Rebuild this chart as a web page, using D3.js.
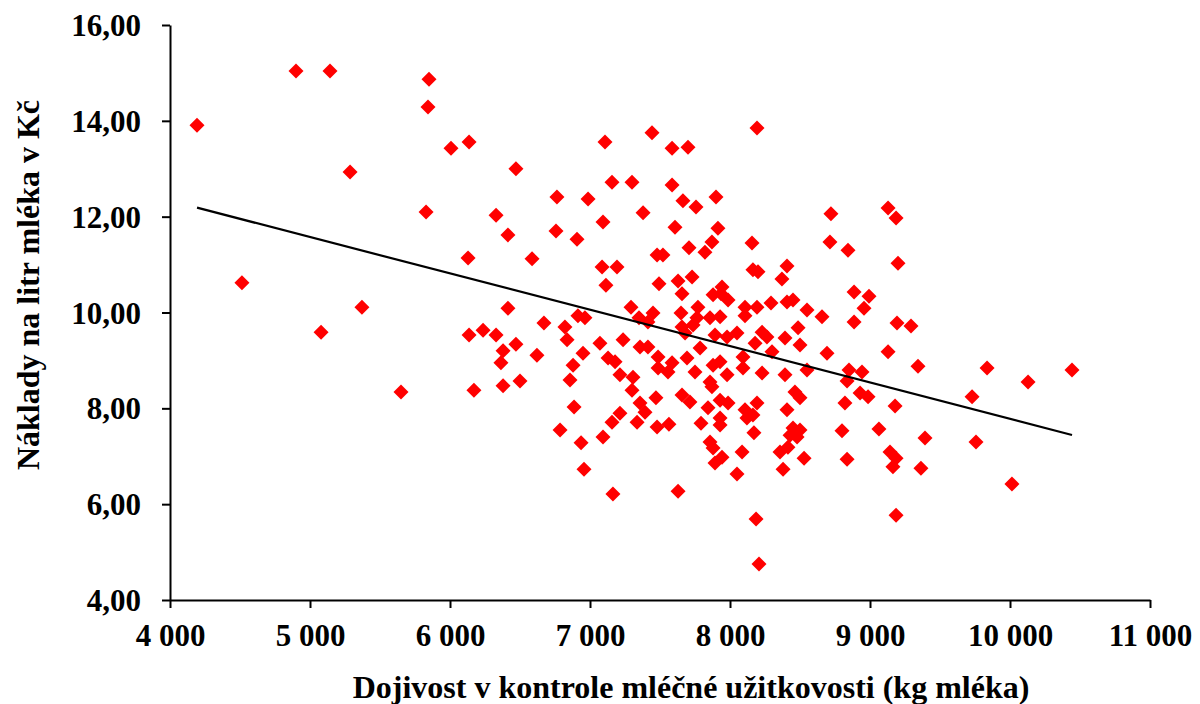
<!DOCTYPE html>
<html>
<head>
<meta charset="utf-8">
<script src="https://cdn.jsdelivr.net/npm/d3@7"></script>
<style>
  html, body { margin: 0; padding: 0; background: #fff; }
  svg { display: block; }
  text { font-family: "Liberation Serif", "Times New Roman", serif; font-weight: bold; fill: #000; }
</style>
</head>
<body>
<svg id="chart" width="1200" height="704"></svg>
<script>
// Milk yield per cow in the performance recording (kg of milk)
const milkYield = [
  4193,4514,4900,5143,5079,5286,5371,5650,5850,5843,5829,6007,6136,6129,6136,6171,6236,6329,6379,6364,6379,6329,6414,6414,6471,6471,6500,6586,6621,6671,6764,6757,
  7107,7443,7586,7700,7157,7300,7586,6986,7664,7757,7379,7093,7607,6907,7707,7479,7521,7086,7193,7114,7493,7629,7729,7657,7293,7450,7650,7771,7350,7414,6914,6964,
  8193,7900,7914,7871,7821,8157,8721,8714,8843,8164,8200,8407,8371,7943,7879,7936,7986,8107,8193,8293,8407,8450,8550,8657,7857,7929,8107,
  6821,6836,7071,7236,6950,6879,6857,7129,7179,7214,7307,7300,7357,7414,7486,7486,7557,7586,7357,7393,7471,7214,7157,7336,7479,7564,6886,6786,6936,7093,6957,7657,7714,7793,7679,7736,7786,7693,7750,7657,7764,7164,7629,
  8050,8264,8229,8393,8486,8500,8300,8179,7893,7979,7929,7879,8093,8093,8229,8393,8550,8693,7857,7871,7979,8464,8500,8407,7929,7986,7843,7929,7929,8107,8193,8164,8121,8171,8450,8500,8429,8479,7857,7879,7943,7893,8086,8357,8414,8379,8050,
  9129,9186,9200,8886,8993,8957,8886,9193,9293,9129,9343,9836,10443,10129,8850,8943,8836,8929,8986,8821,9179,9729,8800,9064,9393,9757,8529,8836,9143,9186,9164,9364,10014,9186,8186,8207
];

// Cost per litre of milk (CZK)
const costPerLitre = [
  13.91,10.62,15.04,15.04,9.59,12.93,10.11,8.34,14.87,14.29,12.10,13.43,13.56,11.14,9.53,8.38,9.63,9.53,9.20,8.95,8.47,12.03,11.62,10.09,13.00,9.34,8.57,11.12,9.11,9.78,12.41,11.70,
  13.56,13.75,13.43,13.45,12.72,12.72,12.66,12.37,12.33,12.20,12.08,11.89,11.78,11.53,11.35,11.20,11.20,10.95,10.95,10.57,10.60,10.66,10.74,10.39,10.11,9.99,9.99,10.11,9.89,9.80,9.93,9.89,
  13.85,12.41,11.76,11.47,11.26,11.45,12.06,11.47,11.30,10.89,10.85,10.97,10.70,10.53,10.37,10.39,10.26,10.11,10.11,10.20,10.22,10.26,10.05,9.91,9.89,9.91,9.93,
  9.70,9.43,9.36,9.43,9.15,8.90,8.59,9.05,8.97,8.70,8.65,8.38,9.28,9.28,9.07,8.84,8.76,8.95,8.11,7.92,8.22,7.90,7.71,7.71,7.61,7.67,8.03,7.55,7.28,7.40,6.73,8.28,8.13,7.69,9.57,9.74,9.26,9.05,8.76,9.70,9.89,6.21,6.27,
  9.57,9.49,9.59,9.47,9.68,9.32,9.18,9.36,9.53,9.49,8.97,8.90,9.07,8.84,8.74,8.70,8.80,9.15,8.55,8.45,8.70,8.34,8.22,7.97,8.17,8.11,8.01,7.80,7.65,7.97,8.11,7.86,7.80,7.49,7.59,7.55,7.44,7.40,7.30,7.17,6.98,6.86,7.09,7.09,7.19,6.73,6.63,
  12.18,11.97,11.03,10.43,10.34,10.09,9.80,9.78,9.72,9.18,8.88,8.84,8.80,8.55,8.80,8.76,8.57,8.32,8.24,8.11,8.05,8.24,7.53,7.57,7.38,7.30,6.96,6.94,7.09,6.96,6.78,6.75,6.42,5.77,5.69,4.75
];

// Linear trend: cost = intercept + slope * yield
const trendIntercept = 15.37;
const trendSlope = -0.000759;

const xTicks = [4000, 5000, 6000, 7000, 8000, 9000, 10000, 11000];
const yTicks = [4, 6, 8, 10, 12, 14, 16];

const xTitle = "Dojivost v kontrole mléčné užitkovosti (kg mléka)";
const yTitle = "Náklady na litr mléka v Kč";

const points = milkYield.map((x, i) => ({ x, y: costPerLitre[i] }));

const cz = d3.formatLocale({ decimal: ",", thousands: "\u00a0", grouping: [3], currency: ["", " Kč"] });
const fmtX = cz.format(",d");
const fmtY = cz.format(".2f");

const margin = { left: 170, right: 50, top: 25, bottom: 104 };
const W = 1200, H = 704;
const svg = d3.select("#chart");

const x = d3.scaleLinear().domain([4000, 11000]).range([margin.left, W - margin.right]);
const y = d3.scaleLinear().domain([4, 16]).range([H - margin.bottom, margin.top]);

// Axes
const xAxis = svg.append("g")
  .attr("transform", `translate(0,${y(4)})`)
  .call(d3.axisBottom(x).tickValues(xTicks).tickFormat(fmtX).tickSize(8).tickPadding(16).tickSizeOuter(0));
const yAxis = svg.append("g")
  .attr("transform", `translate(${x(4000)},0)`)
  .call(d3.axisLeft(y).tickValues(yTicks).tickFormat(fmtY).tickSize(8).tickPadding(21).tickSizeOuter(0));

[xAxis, yAxis].forEach(g => {
  g.selectAll(".domain").attr("stroke", "#000").attr("stroke-width", 2);
  g.selectAll(".tick line").attr("stroke", "#000").attr("stroke-width", 2);
  g.selectAll(".tick text")
    .attr("font-family", "'Liberation Serif', 'Times New Roman', serif")
    .attr("font-weight", "bold")
    .attr("font-size", 31)
    .attr("fill", "#000");
});
yAxis.selectAll(".tick text").attr("dy", "0.34em");

// Diamond markers
const half = 7.5;
const diamond = `M0,${-half}L${half},0L0,${half}L${-half},0Z`;
svg.append("g")
  .selectAll("path")
  .data(points)
  .join("path")
  .attr("d", diamond)
  .attr("transform", d => `translate(${x(d.x)},${y(d.y)})`)
  .attr("fill", "#ff0000");

// Trend line across the observed yield range
const [xMin, xMax] = d3.extent(milkYield);
const trend = [xMin, xMax].map(v => ({ x: v, y: trendIntercept + trendSlope * v }));
svg.append("path")
  .datum(trend)
  .attr("d", d3.line().x(d => x(d.x)).y(d => y(d.y)))
  .attr("fill", "none")
  .attr("stroke", "#000")
  .attr("stroke-width", 2.2);

// Axis titles
svg.append("text")
  .attr("x", 691)
  .attr("y", 698)
  .attr("text-anchor", "middle")
  .attr("font-size", 32)
  .text(xTitle);

svg.append("text")
  .attr("transform", `translate(39,${285}) rotate(-90)`)
  .attr("text-anchor", "middle")
  .attr("font-size", 32)
  .text(yTitle);
</script>
</body>
</html>
